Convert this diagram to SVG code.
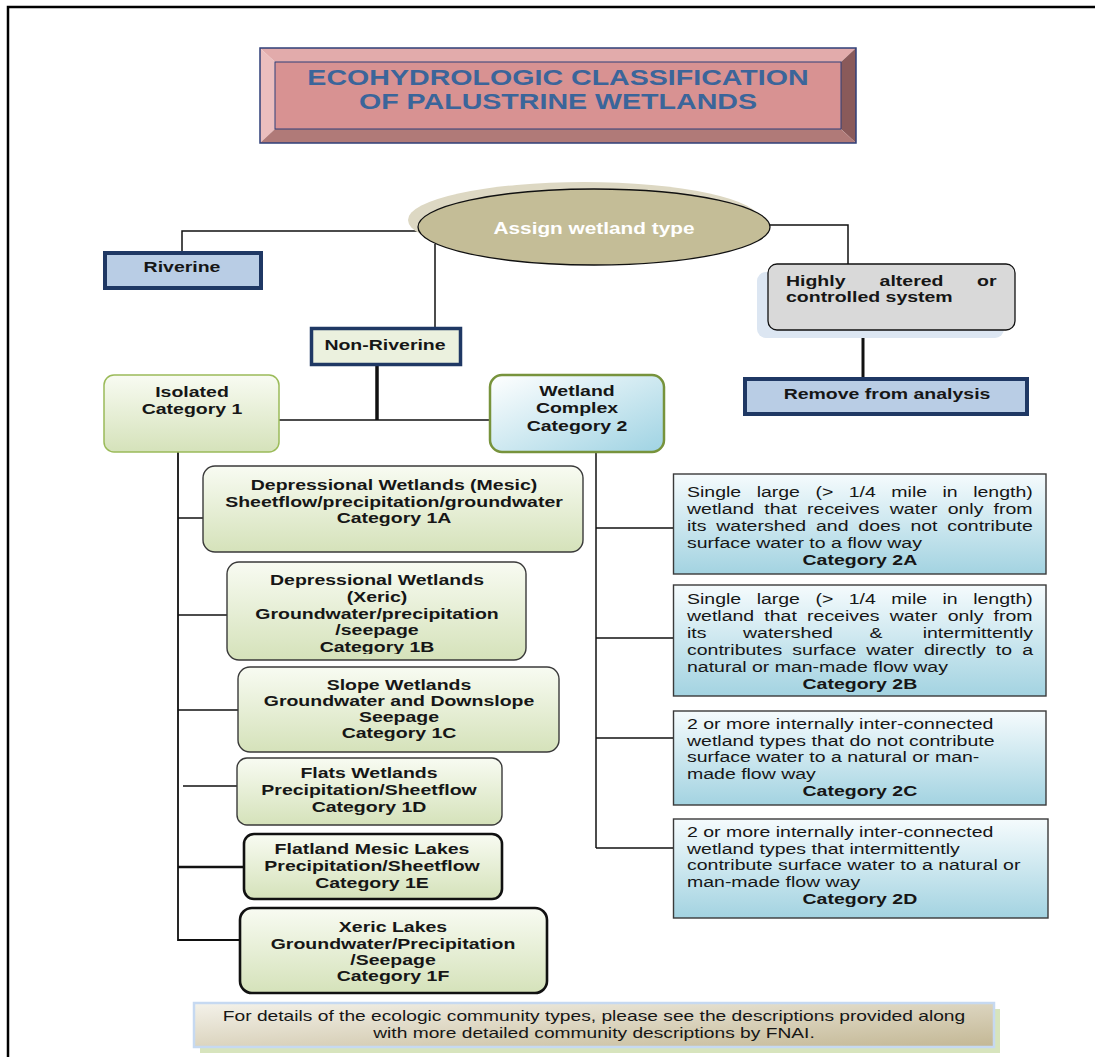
<svg xmlns="http://www.w3.org/2000/svg" width="1095" height="1057" viewBox="0 0 1095 1057">
  <style>
    .t { font-family: "Liberation Sans", Arial, sans-serif; font-size: 15px; font-weight: bold; fill: #161616; text-anchor: middle; }
    .r { font-weight: normal; text-anchor: start; }
    .title { font-family: "Liberation Sans", Arial, sans-serif; font-size: 22px; font-weight: bold; fill: #3b659a; text-anchor: middle; }
    .ell { font-family: "Liberation Sans", Arial, sans-serif; font-size: 16px; font-weight: bold; fill: #ffffff; text-anchor: middle; }
    .conn path { fill: none; stroke: #111; stroke-width: 1.5; }
    .navy { stroke: #1f3864; stroke-width: 4; fill: #b9cde5; }
    .grn { fill: url(#gGreen); stroke: #3a3a3a; stroke-width: 1.4; }
    .grnk { fill: url(#gGreen); stroke: #111; stroke-width: 2.6; }
    .blu { fill: url(#gBlue); stroke: #3a3a3a; stroke-width: 1.4; }
  </style>
  <defs>
    <linearGradient id="gGreen" x1="0" y1="0" x2="0" y2="1">
      <stop offset="0" stop-color="#f8fbf2"/>
      <stop offset="1" stop-color="#d5e2ba"/>
    </linearGradient>
    <linearGradient id="gBlue" x1="0" y1="0" x2="0" y2="1">
      <stop offset="0" stop-color="#f5fbfd"/>
      <stop offset="1" stop-color="#a3d3e1"/>
    </linearGradient>
    <linearGradient id="gWC" x1="0" y1="0" x2="1" y2="1">
      <stop offset="0" stop-color="#ffffff"/>
      <stop offset="1" stop-color="#9fd3e3"/>
    </linearGradient>
    <linearGradient id="gTan" x1="0" y1="0" x2="1" y2="1">
      <stop offset="0" stop-color="#f4f2ea"/>
      <stop offset="1" stop-color="#c3b794"/>
    </linearGradient>
    <clipPath id="clip1b">
      <rect x="227" y="562" width="299" height="92"/>
    </clipPath>
  </defs>

  <rect width="1095" height="1057" fill="#ffffff"/>

  <!-- page frame -->
  <path d="M8,1057 V7 H1095" fill="none" stroke="#000" stroke-width="2.5"/>

  <!-- title plate with bevelled edges -->
  <g id="title">
    <polygon points="260,48 856,48 841,62 275,62" fill="#e2abab"/>
    <polygon points="260,48 275,62 275,129 260,143" fill="#ebbebe"/>
    <polygon points="856,48 856,143 841,129 841,62" fill="#8a5a5a"/>
    <polygon points="260,143 275,129 841,129 856,143" fill="#b07a78"/>
    <rect x="275" y="62" width="566" height="67" fill="#d89292" stroke="#2f3f78" stroke-width="1"/>
    <rect x="260" y="48" width="596" height="95" fill="none" stroke="#2f3f78" stroke-width="1.5"/>
    <g transform="translate(558 0) scale(1.3 1)">
      <text class="title" x="0" y="85">ECOHYDROLOGIC CLASSIFICATION</text>
      <text class="title" x="0" y="109">OF PALUSTRINE WETLANDS</text>
    </g>
  </g>

  <!-- connectors -->
  <g id="connectors" class="conn">
    <path d="M419,231 H182 V252"/>
    <path d="M435,244 V328"/>
    <path d="M770,225 H848 V264"/>
    <path d="M863,330 V378" style="stroke-width:3"/>
    <path d="M377,366 V420" style="stroke-width:3.5"/>
    <path d="M274,420 H490"/>
    <path d="M178,452 V940 H240" style="stroke-width:1.8"/>
    <path d="M178,518 H203"/>
    <path d="M178,615 H227"/>
    <path d="M178,710 H238"/>
    <path d="M183,786 H237"/>
    <path d="M178,867 H244" style="stroke-width:2.6"/>
    <path d="M596,452 V848"/>
    <path d="M596,528 H674"/>
    <path d="M596,638 H674"/>
    <path d="M596,738 H674"/>
    <path d="M596,848 H674"/>
  </g>

  <!-- decision ellipse -->
  <g id="assign">
    <ellipse cx="584" cy="220" rx="176" ry="38" fill="#ddd8c3"/>
    <ellipse cx="594" cy="227" rx="176" ry="38" fill="#c4bd97" stroke="#111" stroke-width="1.3"/>
    <g transform="translate(594 0) scale(1.3 1)">
      <text class="ell" x="0" y="234">Assign wetland type</text>
    </g>
  </g>

  <g id="riverine">
    <rect class="navy" x="105" y="253" width="156" height="35"/>
    <g transform="translate(182 0) scale(1.3 1)"><text class="t" x="0" y="272">Riverine</text></g>
  </g>

  <g id="non-riverine">
    <rect x="311.5" y="328.5" width="149" height="36" fill="#ebf1de" stroke="#1f3864" stroke-width="3.5"/>
    <g transform="translate(385 0) scale(1.3 1)"><text class="t" x="0" y="350">Non-Riverine</text></g>
  </g>

  <g id="highly-altered">
    <rect x="757" y="272" width="247" height="66" rx="9" fill="#dce6f2"/>
    <rect x="768" y="264" width="247" height="66" rx="9" fill="#d9d9d9" stroke="#111" stroke-width="1.3"/>
    <g transform="translate(786 0) scale(1.3 1)">
      <text class="t r" x="0" y="286" style="font-weight:bold">Highly</text>
      <text class="t r" x="72" y="286" style="font-weight:bold">altered</text>
      <text class="t" x="162" y="286" style="text-anchor:end">or</text>
      <text class="t r" x="0" y="302" style="font-weight:bold">controlled system</text>
    </g>
  </g>

  <g id="remove">
    <rect class="navy" x="745" y="379" width="282" height="35"/>
    <g transform="translate(887 0) scale(1.3 1)"><text class="t" x="0" y="399">Remove from analysis</text></g>
  </g>

  <g id="isolated">
    <rect x="104" y="375" width="175" height="77" rx="10" fill="url(#gGreen)" stroke="#9bbb59" stroke-width="1.5"/>
    <g transform="translate(192 0) scale(1.3 1)">
      <text class="t" x="0" y="397">Isolated</text>
      <text class="t" x="0" y="414">Category 1</text>
    </g>
  </g>

  <g id="wetland-complex">
    <rect x="490" y="375" width="174" height="77" rx="12" fill="url(#gWC)" stroke="#77933c" stroke-width="2.5"/>
    <g transform="translate(577 0) scale(1.3 1)">
      <text class="t" x="0" y="396">Wetland</text>
      <text class="t" x="0" y="413">Complex</text>
      <text class="t" x="0" y="431">Category 2</text>
    </g>
  </g>

  <g id="cat-1a">
    <rect class="grn" x="203" y="466" width="380" height="86" rx="12"/>
    <g transform="translate(394 0) scale(1.3 1)">
      <text class="t" x="0" y="490">Depressional Wetlands (Mesic)</text>
      <text class="t" x="0" y="507">Sheetflow/precipitation/groundwater</text>
      <text class="t" x="0" y="523">Category 1A</text>
    </g>
  </g>

  <g id="cat-1b">
    <rect class="grn" x="227" y="562" width="299" height="98" rx="12"/>
    <g clip-path="url(#clip1b)">
      <g transform="translate(377 0) scale(1.3 1)">
        <text class="t" x="0" y="585">Depressional Wetlands</text>
        <text class="t" x="0" y="602">(Xeric)</text>
        <text class="t" x="0" y="619">Groundwater/precipitation</text>
        <text class="t" x="0" y="635">/seepage</text>
        <text class="t" x="0" y="652">Category 1B</text>
      </g>
    </g>
  </g>

  <g id="cat-1c">
    <rect class="grn" x="238" y="667" width="321" height="85" rx="12"/>
    <g transform="translate(399 0) scale(1.3 1)">
      <text class="t" x="0" y="690">Slope Wetlands</text>
      <text class="t" x="0" y="706">Groundwater and Downslope</text>
      <text class="t" x="0" y="722">Seepage</text>
      <text class="t" x="0" y="738">Category 1C</text>
    </g>
  </g>

  <g id="cat-1d">
    <rect class="grn" x="237" y="758" width="265" height="67" rx="10"/>
    <g transform="translate(369 0) scale(1.3 1)">
      <text class="t" x="0" y="778">Flats Wetlands</text>
      <text class="t" x="0" y="795">Precipitation/Sheetflow</text>
      <text class="t" x="0" y="812">Category 1D</text>
    </g>
  </g>

  <g id="cat-1e">
    <rect class="grnk" x="244" y="834" width="258" height="65" rx="10"/>
    <g transform="translate(372 0) scale(1.3 1)">
      <text class="t" x="0" y="854">Flatland Mesic Lakes</text>
      <text class="t" x="0" y="871">Precipitation/Sheetflow</text>
      <text class="t" x="0" y="888">Category 1E</text>
    </g>
  </g>

  <g id="cat-1f">
    <rect class="grnk" x="240" y="908" width="307" height="85" rx="12"/>
    <g transform="translate(393 0) scale(1.3 1)">
      <text class="t" x="0" y="932">Xeric Lakes</text>
      <text class="t" x="0" y="949">Groundwater/Precipitation</text>
      <text class="t" x="0" y="965">/Seepage</text>
      <text class="t" x="0" y="981">Category 1F</text>
    </g>
  </g>

  <g id="cat-2a">
    <rect class="blu" x="673.5" y="474" width="372.5" height="100"/>
    <g transform="translate(687 0) scale(1.3 1)">
      <text class="t r" x="0" y="497" word-spacing="7.75">Single large (&gt; 1/4 mile in length)</text>
      <text class="t r" x="0" y="514" word-spacing="3.7">wetland that receives water only from</text>
      <text class="t r" x="0" y="531" word-spacing="3.4">its watershed and does not contribute</text>
      <text class="t r" x="0" y="548">surface water to a flow way</text>
      <text class="t" x="133" y="565">Category 2A</text>
    </g>
  </g>

  <g id="cat-2b">
    <rect class="blu" x="673.5" y="585" width="372.5" height="111"/>
    <g transform="translate(687 0) scale(1.3 1)">
      <text class="t r" x="0" y="604" word-spacing="7.75">Single large (&gt; 1/4 mile in length)</text>
      <text class="t r" x="0" y="621" word-spacing="3.7">wetland that receives water only from</text>
      <text class="t r" x="0" y="638">its</text>
      <text class="t r" x="43.1" y="638">watershed</text>
      <text class="t r" x="140.4" y="638">&amp;</text>
      <text class="t r" x="266.2" y="638" style="text-anchor:end">intermittently</text>
      <text class="t r" x="0" y="655" word-spacing="3.6">contributes surface water directly to a</text>
      <text class="t r" x="0" y="672">natural or man-made flow way</text>
      <text class="t" x="133" y="689">Category 2B</text>
    </g>
  </g>

  <g id="cat-2c">
    <rect class="blu" x="673.5" y="711" width="372.5" height="94"/>
    <g transform="translate(687 0) scale(1.3 1)">
      <text class="t r" x="0" y="729">2 or more internally inter-connected</text>
      <text class="t r" x="0" y="746">wetland types that do not contribute</text>
      <text class="t r" x="0" y="762">surface water to a natural or man-</text>
      <text class="t r" x="0" y="779">made flow way</text>
      <text class="t" x="133" y="796">Category 2C</text>
    </g>
  </g>

  <g id="cat-2d">
    <rect class="blu" x="673.5" y="819" width="374.5" height="99"/>
    <g transform="translate(687 0) scale(1.3 1)">
      <text class="t r" x="0" y="837">2 or more internally inter-connected</text>
      <text class="t r" x="0" y="854">wetland types that intermittently</text>
      <text class="t r" x="0" y="870">contribute surface water to a natural or</text>
      <text class="t r" x="0" y="887">man-made flow way</text>
      <text class="t" x="133" y="904">Category 2D</text>
    </g>
  </g>

  <g id="note">
    <rect x="200" y="1009" width="800" height="44" fill="#d7e4bd"/>
    <rect x="194" y="1003" width="800" height="44" fill="url(#gTan)" stroke="#c6d9f1" stroke-width="2.5"/>
    <g transform="translate(594 0) scale(1.28 1)">
      <text class="t" x="0" y="1021" style="font-weight:normal">For details of the ecologic community types, please see the descriptions provided along</text>
      <text class="t" x="0" y="1038" style="font-weight:normal">with more detailed community descriptions by FNAI.</text>
    </g>
  </g>
</svg>
